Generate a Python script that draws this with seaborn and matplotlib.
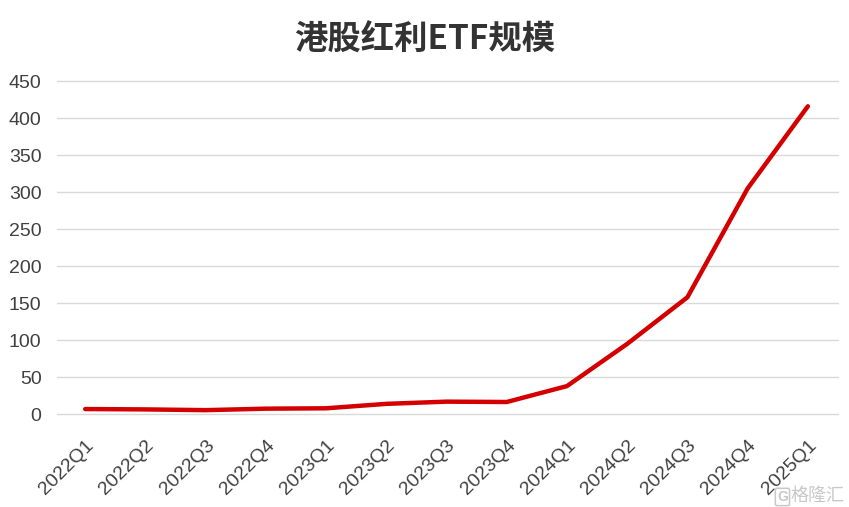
import matplotlib
matplotlib.use("Agg")
import matplotlib.pyplot as plt
import seaborn as sns
import pandas as pd

quarters = ["2022Q1", "2022Q2", "2022Q3", "2022Q4", "2023Q1", "2023Q2", "2023Q3",
            "2023Q4", "2024Q1", "2024Q2", "2024Q3", "2024Q4", "2025Q1"]
scale = [7, 6.5, 5.5, 7.5, 8, 14, 17, 16.5, 38, 95, 158, 305, 416]
yticks = [0, 50, 100, 150, 200, 250, 300, 350, 400, 450]
title = "港股红利ETF规模"

sns.set_theme(style="white")
plt.rcParams["font.family"] = ["Liberation Sans", "Noto Sans CJK SC", "DejaVu Sans"]

df = pd.DataFrame({"q": quarters, "v": scale})
df["x"] = range(len(quarters))

fig = plt.figure(figsize=(8.49, 5.07), dpi=100)
ax = fig.add_axes([0.067, 0.183, 0.92, 0.657])
sns.lineplot(data=df, x="x", y="v", ax=ax, color="#d40000", linewidth=3.2)

ax.set_ylim(0, 450)
ax.set_xlim(-0.47, len(quarters) - 0.5)
ax.set_yticks(yticks)
ax.set_yticklabels([str(t) for t in yticks], fontsize=14, color="#404040")
ax.set_xticks(range(len(quarters)))
ax.set_xticklabels(quarters, rotation=45, ha="right", rotation_mode="anchor",
                   fontsize=14, color="#404040")
ax.tick_params(axis="y", length=0, pad=11)
ax.tick_params(axis="x", length=0, pad=16)
ax.grid(axis="y", color="#d9d9d9", linewidth=1)
for gl in ax.get_ygridlines():
    gl.set_clip_on(False)
ax.set_axisbelow(True)
for s in ax.spines.values():
    s.set_visible(False)
ax.set_xlabel("")
ax.set_ylabel("")

fig.text(0.5, 0.92, title, ha="center", va="center", fontsize=24, fontweight="bold",
         color="#333333", family=["Noto Sans CJK SC", "DejaVu Sans"])
fig.text(0.928, 0.006, "G", ha="right", va="bottom", fontsize=10, color="#c8c8c8",
         fontweight="bold",
         bbox=dict(boxstyle="round,pad=0.12", fc="none", ec="#c8c8c8", lw=1.1))
fig.text(0.995, 0.004, "格隆汇", ha="right", va="bottom", fontsize=13, color="#c8c8c8",
         family=["Noto Sans CJK SC", "DejaVu Sans"])

fig.savefig("out.png", dpi=100)
